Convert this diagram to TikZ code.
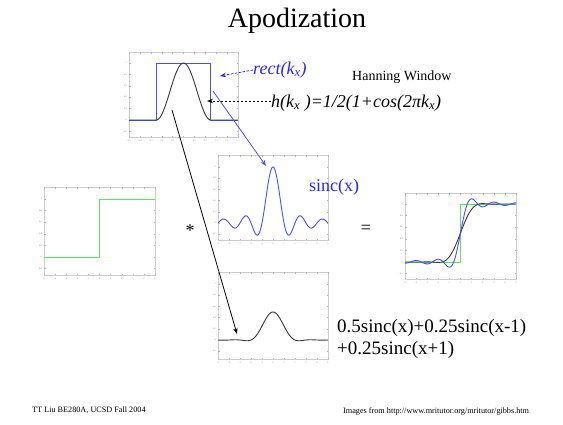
\documentclass[tikz,border=0pt]{standalone}
\usepackage{fontspec}
\setmainfont{Liberation Serif}
\usetikzlibrary{arrows.meta}

\definecolor{curveblue}{RGB}{70,80,255}
\definecolor{labelblue}{RGB}{40,40,250}
\definecolor{stepgreen}{RGB}{90,228,90}
\definecolor{curvegray}{RGB}{55,55,55}

\tikzset{
  axframe/.style={draw=black!20,line width=0.4pt},
  axtick/.style={draw=black!30,line width=0.3pt},
  ticklab/.style={font=\fontsize{2.2}{3}\selectfont,text=black!55,inner sep=0pt},
  bigtext/.style={font=\fontsize{18}{21}\selectfont,inner sep=0pt},
  curve/.style={line width=0.9pt,line join=round},
  pointer/.style={line width=0.8pt}
}

\begin{document}
\begin{tikzpicture}[x=1pt,y=-1pt,>={Stealth[length=6pt,width=4.5pt]},
  declare function={
    sinc(\zi)=sin(180*(\zi))/(pi*(\zi));
    siT(\za)=(\za)*(1-(\za)*(\za)/18+(\za)*(\za)*(\za)*(\za)/600-(\za)*(\za)*(\za)*(\za)*(\za)*(\za)/352.8/100);
    siF(\zd)=(\zd)*(1+7.241163*(\zd)*(\zd)+2.463936*(\zd)*(\zd)*(\zd)*(\zd))/(1+9.068580*(\zd)*(\zd)+7.157433*(\zd)*(\zd)*(\zd)*(\zd));
    siG(\ze)=(\ze)*(\ze)*(1+7.547478*(\ze)*(\ze)+1.564072*(\ze)*(\ze)*(\ze)*(\ze))/(1+12.723684*(\ze)*(\ze)+15.723606*(\ze)*(\ze)*(\ze)*(\ze));
    siA(\zc)=pi/2-siF(1/(\zc))*cos(deg(\zc))-siG(1/(\zc))*sin(deg(\zc));
    Si(\zb)=(abs(\zb)<1.5)*siT(max(-1.5,min(1.5,\zb)))+(1-(abs(\zb)<1.5))*(\zb)/max(1.5,abs(\zb))*siA(max(1.5,abs(\zb)));
    gibbs(\zf)=0.5+Si(pi*(\zf))/pi;
    apod(\zg)=0.5+(0.5*Si(pi*(\zg))+0.25*Si(pi*(\zg-1))+0.25*Si(pi*(\zg+1)))/pi;
    kern(\zh)=0.5*sinc(\zh)+0.25*sinc(\zh-1)+0.25*sinc(\zh+1);
  }]
\useasboundingbox (0,0) rectangle (563,424);

\node[font=\fontsize{28}{30}\selectfont,inner sep=0pt] (title) at (297,21) {Apodization};

% window plot
\draw[axframe] (129,52) rectangle (238,137);
\foreach \v [count=\i from 0] in {-0.5,-0.4,-0.3,-0.2,-0.1,0,0.1,0.2,0.3,0.4,0.5}{
  \draw[axtick] ({129+10.9*\i},137) -- ++(0,-1.5) ({129+10.9*\i},52) -- ++(0,1.5);
  \node[ticklab] (wx\i) at ({129+10.9*\i},141) {\v};
}
\foreach \v [count=\j] in {-0.2,0,0.2,0.4,0.6,0.8,1}{
  \draw[axtick] (129,{120-57*\v}) -- ++(1.5,0) (238,{120-57*\v}) -- ++(-1.5,0);
  \node[ticklab,anchor=east] (wy\j) at (127,{120-57*\v}) {\v};
}
\begin{scope}[shift={(183.5,120)},x=109pt,y=57pt]
  \draw[curve,curveblue] (-0.5,0) -- (-0.25,0) -- (-0.25,1) -- (0.25,1) -- (0.25,0) -- (0.5,0);
  \draw[curve,curvegray] (-0.5,0) -- (-0.25,0)
    -- plot[domain=-0.25:0.25,samples=60] (\x,{0.5*(1+cos(720*\x))}) -- (0.5,0);
\end{scope}

% sinc plot
\draw[axframe] (218,155) rectangle (328,240);
\foreach \i in {0,...,10}{
  \draw[axtick] ({218+11*\i},240) -- ++(0,-1.5) ({218+11*\i},155) -- ++(0,1.5);
  \pgfmathtruncatemacro\v{\i-5}
  \node[ticklab] (sx\i) at ({218+11*\i},244) {\v};
}
\foreach \v [count=\j] in {-0.2,0,0.2,0.4,0.6,0.8,1}{
  \draw[axtick] (218,{223-56*\v}) -- ++(1.5,0) (328,{223-56*\v}) -- ++(-1.5,0);
  \node[ticklab,anchor=east] (sy\j) at (216,{223-56*\v}) {\v};
}
\begin{scope}[shift={(273,223)},x=11pt,y=56pt]
  \draw[curve,curveblue] plot[domain=-5:5,samples=150,smooth] (\x,{sinc(\x)});
\end{scope}

% step plot
\draw[axframe] (44,187) rectangle (155,275);
\foreach \i in {0,...,10}{
  \draw[axtick] ({44+11.1*\i},275) -- ++(0,-1.5) ({44+11.1*\i},187) -- ++(0,1.5);
  \pgfmathtruncatemacro\v{\i-5}
  \node[ticklab] (gx\i) at ({44+11.1*\i},279) {\v};
}
\foreach \v [count=\j] in {-0.2,0,0.2,0.4,0.6,0.8,1}{
  \draw[axtick] (44,{257-58*\v}) -- ++(1.5,0) (155,{257-58*\v}) -- ++(-1.5,0);
  \node[ticklab,anchor=east] (gy\j) at (42,{257-58*\v}) {\v};
}
\begin{scope}[shift={(99.5,257)},x=11.1pt,y=58pt]
  \draw[curve,stepgreen] (-5,0) -- (0,0) -- (0,1) -- (5,1);
\end{scope}

% result plot
\draw[axframe] (405,193) rectangle (516,279);
\foreach \i in {0,...,10}{
  \draw[axtick] ({405+11.1*\i},279) -- ++(0,-1.5) ({405+11.1*\i},193) -- ++(0,1.5);
  \pgfmathtruncatemacro\v{\i-5}
  \node[ticklab] (rx\i) at ({405+11.1*\i},283) {\v};
}
\foreach \v [count=\j] in {-0.2,0,0.2,0.4,0.6,0.8,1}{
  \draw[axtick] (405,{262-58*\v}) -- ++(1.5,0) (516,{262-58*\v}) -- ++(-1.5,0);
  \node[ticklab,anchor=east] (ry\j) at (403,{262-58*\v}) {\v};
}
\begin{scope}[shift={(460.5,262)},x=11.1pt,y=58pt]
  \draw[curve,stepgreen] (-5,0) -- (0,0) -- (0,1) -- (5,1);
  \draw[curve,curvegray] plot[domain=-5:5,samples=120,smooth] (\x,{apod(\x)});
  \draw[curve,curveblue] plot[domain=-5:5,samples=150,smooth] (\x,{gibbs(\x)});
\end{scope}

% kernel plot
\draw[axframe] (218,272) rectangle (328,359);
\foreach \i in {0,...,10}{
  \draw[axtick] ({218+11*\i},359) -- ++(0,-1.5) ({218+11*\i},272) -- ++(0,1.5);
  \pgfmathtruncatemacro\v{\i-5}
  \node[ticklab] (kx\i) at ({218+11*\i},363) {\v};
}
\foreach \v [count=\j] in {-0.2,0,0.2,0.4,0.6,0.8,1}{
  \draw[axtick] (218,{340-56*\v}) -- ++(1.5,0) (328,{340-56*\v}) -- ++(-1.5,0);
  \node[ticklab,anchor=east] (ky\j) at (216,{340-56*\v}) {\v};
}
\begin{scope}[shift={(273,340)},x=11pt,y=56pt]
  \draw[curve,curvegray] plot[domain=-5:5,samples=150,smooth] (\x,{kern(\x)});
\end{scope}

\node[bigtext,text=labelblue,anchor=west] (rect) at (253,70) {\textit{rect(k\textsubscript{x})}};
\node[anchor=west,inner sep=0pt,font=\fontsize{14}{16}\selectfont] (hann) at (352,77) {Hanning Window};
\node[bigtext,anchor=west] (hfun) at (271,103) {\textit{h(k\textsubscript{x} )=1/2(1+cos(2πk\textsubscript{x})}};
\node[bigtext,text=labelblue,anchor=west] (sinc) at (309,187) {sinc(x)};
\node[bigtext] (conv) at (190,231) {*};
\node[bigtext] (eq) at (366,229) {=};
\node[bigtext,font=\fontsize{19}{22}\selectfont,anchor=west,align=left] (kertxt) at (337,339) {0.5sinc(x)+0.25sinc(x-1)\\+0.25sinc(x+1)};

\coordinate (rectTip) at (220,76);
\coordinate (hTip) at (207,101);
\coordinate (blueFrom) at (213,91);
\coordinate (sincTip) at (266,166);
\coordinate (blackFrom) at (172,110);
\coordinate (kerTip) at (237,334);

  \draw[->,pointer,labelblue,dash pattern=on 2.5pt off 1.5pt] (rect.west) -- (rectTip);
  \draw[->,pointer,dash pattern=on 2.5pt off 1.5pt] (hfun.west |- hTip) -- (hTip);
  \draw[->,pointer,curveblue] (blueFrom) -- (sincTip);
  \draw[->,pointer] (blackFrom) -- (kerTip);

\node[anchor=west,inner sep=0pt,font=\fontsize{8.2}{9}\selectfont] (author) at (32,410) {TT Liu BE280A, UCSD Fall 2004};
\node[anchor=west,inner sep=0pt,font=\fontsize{8.2}{9}\selectfont] (source) at (343,411) {Images from http://www.mritutor.org/mritutor/gibbs.htm};
\end{tikzpicture}
\end{document}
